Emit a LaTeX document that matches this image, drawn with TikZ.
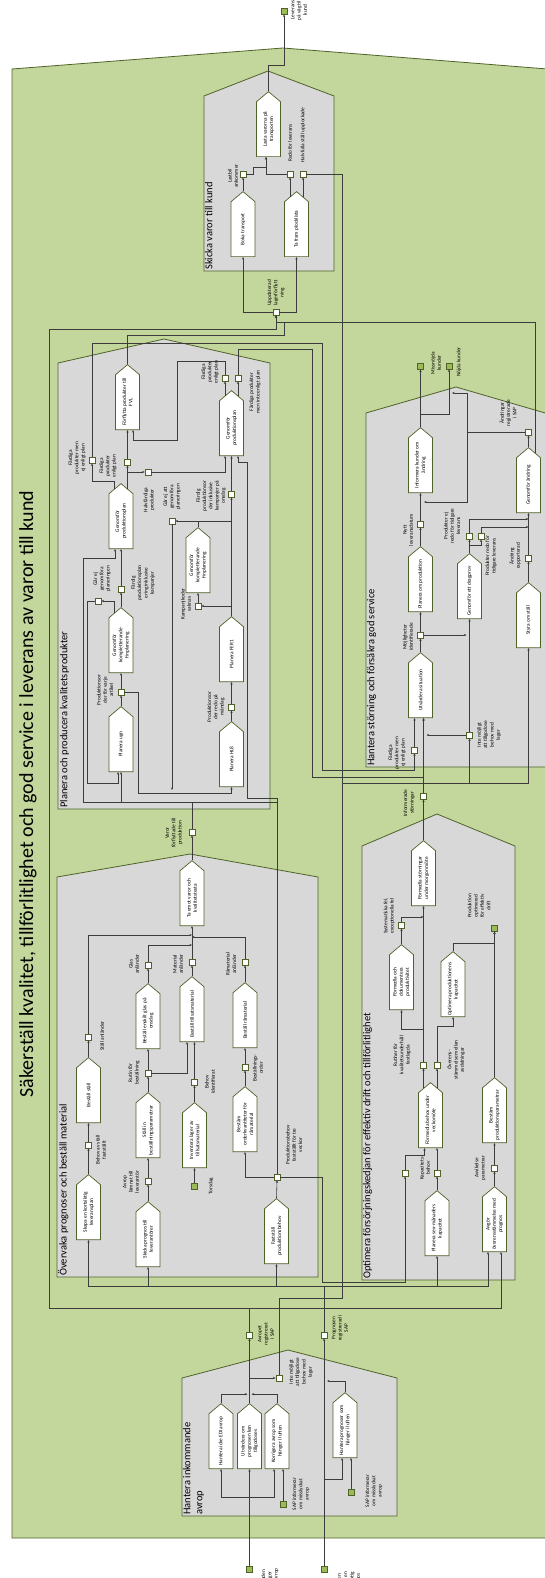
\documentclass[tikz,border=0pt]{standalone}
\usepackage{fontspec}
\setmainfont{Carlito}
\usetikzlibrary{shapes.symbols,arrows.meta}

\definecolor{fieldgreen}{RGB}{195,214,155}
\definecolor{areagray}{RGB}{216,216,216}
\definecolor{edgeolive}{RGB}{79,98,40}
\definecolor{eventgreen}{RGB}{155,187,89}
\definecolor{wire}{RGB}{60,60,60}

\newcommand\smallfs{\fontsize{5.3}{6.3}\selectfont}

\tikzset{
  area/.style={fill=areagray, draw=edgeolive, line width=0.8pt},
  proc/.style={signal, signal to=east, signal pointer angle=100, rotate=90, anchor=west,
    draw=edgeolive, fill=white, line width=0.7pt, minimum width=65pt, minimum height=24pt,
    inner sep=1pt, align=center, font=\smallfs},
  ev/.style={rectangle, draw=edgeolive, fill=white, line width=0.7pt, minimum size=6pt, inner sep=0pt},
  evg/.style={ev, fill=eventgreen},
  lbl/.style={rotate=90, align=center, inner sep=0pt, font=\smallfs},
  areatitle/.style={rotate=90, anchor=north west, align=left, inner sep=0pt,
    font=\fontsize{10.5}{12}\selectfont},
  flow/.style={draw=wire, line width=0.6pt, -{Stealth[length=2.6pt,width=2.2pt]}},
  link/.style={draw=wire, line width=0.6pt},
}

\begin{document}
\begin{tikzpicture}[x=1pt, y=-1pt]
\useasboundingbox (0,0) rectangle (545,1578);

% field and sub-process areas
\draw[fill=fieldgreen, draw=edgeolive, line width=0.8pt] (12,1538) -- (12,69) -- (283,48) -- (560,70) -- (560,1538) -- cycle;
\draw[area] (204,271) -- (204,96) -- (268,71) -- (334,96) -- (334,271) -- cycle;
\draw[area] (58,809) -- (58,363) -- (164,339) -- (270,363) -- (270,809) -- cycle;
\draw[area] (57,1277) -- (57,877) -- (190,854) -- (318,877) -- (318,1277) -- cycle;
\draw[area] (366,767) -- (366,413) -- (456,387) -- (552,415) -- (552,767) -- cycle;
\draw[area] (362,1280) -- (362,846) -- (437,814) -- (515,846) -- (515,1280) -- cycle;
\draw[area] (182,1516) -- (182,1378) -- (288,1350) -- (397,1378) -- (397,1516) -- cycle;

\node[rotate=90, inner sep=0pt, font=\fontsize{20}{24}\selectfont] (maintitle) at (28,794)
  {Säkerställ kvalitet, tillförlitlighet och god service i leverans av varor till kund};
\node[areatitle] (t-skicka) at (205,270) {Skicka varor till kund};
\node[areatitle] (t-planera) at (60,808) {Planera och producera kvalitetsprodukter};
\node[areatitle] (t-overvaka) at (58,1276) {Övervaka prognoser och beställ material};
\node[areatitle] (t-storning) at (367,766) {Hantera störning och försäkra god service};
\node[areatitle] (t-optimera) at (363,1279) {Optimera försörjningskedjan för effektiv drift och tillförlitlighet};
\node[areatitle] (t-avrop) at (183,1515) {Hantera inkommande\\avrop};

% Skicka varor till kund
\node[proc] (lasta) at (268.5,157) {Lasta varorna på\\transporten};
\node[proc] (boka) at (243,257) {Boka transport};
\node[proc] (tafram) at (296.5,257) {Ta fram plocklista};
\node[ev] (lastbil) at (243,174) {};
\node[ev] (redo) at (290,174) {};
\node[ev] (halvf) at (303,174) {};
\node[ev] (upd) at (276,312) {};
\node[evg] (levkund) at (284,11) {};
\node[lbl] (lastbil-l) at (233,176) {Lastbil\\ankommer};
\node[lbl] (redo-l) at (290,143) {Redo för leverans};
\node[lbl] (halvf-l) at (303,135) {Halvfulla ställ upplockade};
\node[lbl] (levkund-l) at (299,10) {Leverans\\på väg till\\kund};
\node[lbl] (upd-l) at (276,293) {Uppdaterad\\lagerförflytt\\ning};

% Planera och producera kvalitetsprodukter
\node[proc] (forfl) at (127.5,430) {Förflytta produkter till\\FVL};
\node[proc] (genpU) at (231.5,456) {Genomför\\produktionsplan};
\node[proc] (genpM) at (121,549) {Genomför\\produktionsplan};
\node[proc] (komplR) at (198,593) {Genomför\\kompletterande\\finplanering};
\node[proc] (komplL) at (121,673) {Genomför\\kompletterande\\finplanering};
\node[proc] (ugn) at (121,772) {Planera ugn};
\node[proc] (fer) at (231.5,682) {Planera FER1};
\node[proc] (hl) at (231.5,787) {Planera HL8};
\node[ev] (fpU1) at (225,378) {};
\node[ev] (fpU2) at (238,378) {};
\node[ev] (fpM1) at (92,460) {};
\node[ev] (fpM2) at (127.5,462) {};
\node[ev] (halvf2) at (148,472) {};
\node[ev] (garejatt) at (172,521) {};
\node[ev] (fpo) at (231.5,494) {};
\node[ev] (kampanj) at (198,606) {};
\node[ev] (garej) at (98,601) {};
\node[ev] (fpl) at (121,589) {};
\node[ev] (poart) at (121,692) {};
\node[ev] (poredo) at (231.5,707) {};
\node[lbl] (fpU1-l) at (210,372) {Färdiga\\produkter\\enligt plan};
\node[lbl] (fpU2-l) at (255,392) {Färdiga produkter\\men inte enligt plan};
\node[lbl] (fpM1-l) at (77,458) {Färdiga\\produkter men\\ej enligt plan};
\node[lbl] (fpM2-l) at (108,466) {Färdiga\\produkter\\enligt plan};
\node[lbl] (halvf2-l) at (149,500) {Halvfärdiga\\produkter};
\node[lbl] (garejatt-l) at (172,497) {Går ej att\\genomföra\\planeringen};
\node[lbl] (fpo-l) at (211,496) {Färdig\\produktionsor\\der inklusive\\kampanjer på\\onsdag};
\node[lbl] (kampanj-l) at (186,604) {Kampanjkoder\\saknas};
\node[lbl] (garej-l) at (102,579) {Går ej\\genomföra\\planeringen};
\node[lbl] (fpl-l) at (143,583) {Färdig\\produktionsplan\\ering inklusive\\kampanjer};
\node[lbl] (poart-l) at (105,690) {Produktionsor\\der för varje\\artikel};
\node[lbl] (poredo-l) at (216,707) {Produktionsor\\der redo på\\måndag};

% Övervaka prognoser och beställ material
\node[proc] (taemot) at (192,926) {Ta emot varor och\\kvalitetstesta};
\node[proc] (bstall) at (88.5,1123) {Beställ ställ};
\node[proc] (skapa) at (88.5,1240) {Skapa en kortsiktig\\leveransplan};
\node[proc] (bglas) at (148,1049) {Beställ enskilt glas på\\onsdag};
\node[proc] (stallin) at (148,1158) {Ställ in\\beställningsparametrar};
\node[proc] (skprog) at (148,1267) {Skicka prognos till\\leverantörer};
\node[proc] (btills) at (192,1042) {Beställ tillsatsmaterial};
\node[proc] (invent) at (194.5,1168) {Inventera lager av\\tillsatsmaterial};
\node[proc] (bram) at (245,1048) {Beställ råmaterial};
\node[proc] (bestam) at (245,1152) {Bestäm\\orderkvantiteter för\\råmaterial};
\node[proc] (faststall) at (276.5,1264) {Fastställ\\produktionsbehov};
\node[ev] (varor) at (192,832) {};
\node[ev] (stallanl) at (88.5,1037) {};
\node[ev] (behovst) at (88.5,1145) {};
\node[ev] (glas) at (148,965) {};
\node[ev] (mat) at (192,962) {};
\node[ev] (ram) at (245,962) {};
\node[ev] (rutin) at (148,1073) {};
\node[ev] (behovid) at (194.5,1082) {};
\node[ev] (avrop) at (148,1181) {};
\node[evg] (torsdag) at (194.5,1186) {};
\node[ev] (bestord) at (245,1067) {};
\node[ev] (prodbehov) at (277,1177) {};
\node[lbl] (varor-l) at (174,833) {Varor\\förflyttade till\\produktion};
\node[lbl] (stallanl-l) at (102,1036) {Ställ anländer};
\node[lbl] (behovst-l) at (101,1150) {Behov av ställ\\fastställt};
\node[lbl] (glas-l) at (134,964) {Glas\\anländer};
\node[lbl] (mat-l) at (178,964) {Material\\anländer};
\node[lbl] (ram-l) at (231,964) {Råmaterial\\anländer};
\node[lbl] (rutin-l) at (134,1073) {Rutin för\\beställning};
\node[lbl] (behovid-l) at (210,1082) {Behov\\identifierat};
\node[lbl] (avrop-l) at (131,1182) {Avrop\\lämnat till\\leverantör};
\node[lbl] (torsdag-l) at (211,1186) {Torsdag};
\node[lbl] (bestord-l) at (258,1068) {Beställnings-\\order};
\node[lbl] (prodbehov-l) at (294,1145) {Produktionsbehov\\fastställt för tre\\veckor};

% Hantera störning och försäkra god service
\node[proc] (inform) at (420.5,493) {Informera kunder om\\ändring};
\node[proc] (genandr) at (528.5,513) {Genomför ändring};
\node[proc] (planom) at (420.5,612) {Planera om produktion};
\node[proc] (dragprov) at (469.5,619) {Genomför ett dragprov};
\node[proc] (styra) at (528.5,648) {Styra om ställ};
\node[proc] (utv) at (420.5,718) {Utvärdera situation};
\node[evg] (missn) at (420.5,366) {};
\node[evg] (nojd) at (449,366) {};
\node[ev] (andrreg) at (528.5,432) {};
\node[ev] (nytt) at (420.5,524) {};
\node[ev] (ejredo) at (469.5,536) {};
\node[ev] (redo2) at (481,536) {};
\node[ev] (andrrap) at (528.5,558) {};
\node[ev] (mojl) at (420.5,635) {};
\node[ev] (fpH) at (414.5,750) {};
\node[ev] (intemH) at (469.5,735) {};
\node[ev] (infst) at (423.5,796) {};
\node[lbl] (missn-l) at (436,363) {Missnöjda\\kunder};
\node[lbl] (nojd-l) at (459,362) {Nöjda kunder};
\node[lbl] (andrreg-l) at (508,413) {Ändringar\\registrerade\\i SAP};
\node[lbl] (nytt-l) at (408,530) {Nytt\\leveransdatum};
\node[lbl] (ejredo-l) at (452,526) {Produkter ej\\redo för tidigare\\leverans};
\node[lbl] (redo2-l) at (491,556) {Produkter redo för\\tidigare leverans};
\node[lbl] (andrrap-l) at (515,556) {Ändring\\rapporterad};
\node[lbl] (mojl-l) at (408,637) {Möjligheter\\identifierade};
\node[lbl] (fpH-l) at (397,753) {Färdiga\\produkter men\\ej enligt plan};
\node[lbl] (intemH-l) at (489,735) {Inte möjligt\\att tillgodose\\behov med\\lager};
\node[lbl] (infst-l) at (409,803) {Informerade\\störningar};

% Optimera försörjningskedjan
\node[proc] (formst) at (423.5,906) {Förmedla störningar\\under morgonmöte};
\node[proc] (formdok) at (401.5,1010) {Förmedla och\\dokumentera\\produktivitet};
\node[proc] (optkap) at (453,1017) {Optimera produktionens\\kapacitet};
\node[proc] (formbeh) at (430.5,1148) {Förmedla behov under\\veckomöte};
\node[proc] (bestpar) at (494.5,1143) {Bestäm\\produktionsparametrar};
\node[proc] (plsex) at (437,1256) {Planera sex-månaders\\kapacitet};
\node[proc] (avgor) at (494.5,1252) {Avgör\\överensstämmelse med\\prognos};
\node[ev] (syst) at (401.5,925) {};
\node[evg] (prodopt) at (494.5,928) {};
\node[ev] (rutiner) at (423.5,1065) {};
\node[ev] (overens) at (437,1065) {};
\node[ev] (kapbeh) at (437,1173) {};
\node[ev] (pbO) at (405,1173) {};
\node[ev] (avvik) at (494.5,1168) {};
\node[lbl] (syst-l) at (389,916) {Systematiska fel,\\exceptionella fel};
\node[lbl] (prodopt-l) at (479,906) {Produktion\\optimerad\\för effektiv\\drift};
\node[lbl] (rutiner-l) at (402,1055) {Rutiner för\\kvalitetsunderhåll\\fastlagda};
\node[lbl] (overens-l) at (456,1060) {Överens-\\stämmelse mellan\\avdelningar};
\node[lbl] (kapbeh-l) at (425,1168) {Kapacitets-\\behov};
\node[lbl] (avvik-l) at (480,1168) {Avvikelse\\parametrar};

% Hantera inkommande avrop
\node[proc] (hicke) at (221,1469) {Hantera icke EDI avrop};
\node[proc] (utvprog) at (249.5,1469) {Utvärdera om\\prognosen kan\\tillgodoses};
\node[proc] (korr) at (277,1469) {Korrigera avrop som\\hänger i luften};
\node[proc] (hprog) at (345,1458) {Hantera prognoser som\\hänger i luften};
\node[ev] (avropreg) at (249.5,1335) {};
\node[ev] (intemI) at (279,1378) {};
\node[ev] (prognreg) at (324,1335) {};
\node[evg] (sap1) at (283,1504) {};
\node[evg] (sap2) at (351,1492) {};
\node[evg] (kundavrop) at (249.5,1569) {};
\node[evg] (kundprog) at (324,1569) {};
\node[lbl] (avropreg-l) at (266,1334) {Avropet\\registrerat\\i SAP};
\node[lbl] (intemI-l) at (301,1372) {Inte möjligt\\att tillgodose\\behov med\\lager};
\node[lbl] (prognreg-l) at (340,1328) {Prognosen\\registrerad i\\SAP};
\node[lbl] (sap1-l) at (301,1494) {SAP informerar\\om misslyckat\\avrop};
\node[lbl] (sap2-l) at (374,1491) {SAP informerar\\om misslyckat\\avrop};
\node[lbl] (kundavrop-l) at (270,1578) {Kunden\\lägger\\ett avrop};
\node[lbl] (kundprog-l) at (349,1582) {Kunden\\lägger en\\långsiktig\\prognos};

% flows: Skicka varor till kund
\draw[flow] (lasta.east) -- ++(0,-26) -| (levkund.south);
\draw[flow] (boka.east) -- (lastbil.south);
\draw[flow] (lastbil.east) -- ++(7,0) -- ++(0,-7) -| ([xshift=-2.5pt]lasta.west);
\draw[flow] (redo.west) -| ([xshift=-2.5pt]lasta.west);
\draw[flow] ([xshift=-6.5pt,yshift=-5.4pt]tafram.east) -- (redo.south);
\draw[flow] ([xshift=6.5pt,yshift=-5.4pt]tafram.east) -- (halvf.south);
\draw[flow] (upd.west) -| (boka.west);
\draw[flow] (upd.east) -| (tafram.west);
\draw[flow] (halvf.east) -- (342,174) -- (342,783) -| (styra.west);

% flows: Planera och producera
\draw[flow] (forfl.east) |- (284,335) -- (284,322) -| (upd.south);
\draw[flow] (avropreg.north) -- (249.5,1308) -| (49,329) -| (upd.south);
\draw[flow] ([xshift=6.5pt,yshift=-5.4pt]genandr.east) -- (535,322) -| (upd.south);
\draw[flow] ([xshift=-6.5pt,yshift=-5.4pt]genpU.east) -- (fpU1.south);
\draw[flow] ([xshift=6.5pt,yshift=-5.4pt]genpU.east) -- (fpU2.south);
\draw[flow] (fpU1.north) |- (177,361) -- (177,440) -| ([xshift=5.5pt]forfl.west);
\draw[flow] (fpU2.north) |- (312,349) -- (312,777) -| (infst.north |- utv.west);
\draw[flow] (fpM1.north) |- (322,343) -- (322,770) -| (fpH.south);
\draw[flow] ([xshift=6.5pt,yshift=-5.4pt]genpM.east) -- (fpM2.south);
\draw[flow] ([xshift=-6.5pt,yshift=-5.4pt]genpM.east) -- ++(0,-7) -| (fpM1.south);
\draw[flow] (fpM2.north) -- (forfl.west);
\draw[flow] ([yshift=-10pt]fpM2.center) -- (halvf2.west);
\draw[flow] (halvf2.east) -| ([xshift=-6.5pt]genpU.west);
\draw[flow] (fpo.north) -- (genpU.west);
\draw[flow] (prodbehov.north) -- (277,798) -| (247,462) -| ([xshift=6.5pt]genpU.west);
\draw[flow] (prodbehov.north) -- (277,802) -| (83,558) -| ([xshift=-6pt]genpM.west);
\draw[link] (varor.north) -- (varor.north |- 0,802);
\draw[flow] ([yshift=-30pt]ugn.west) -- (ugn.west);
\draw[flow] (fer.east) -- (fpo.south);
\draw[flow] (garejatt.east -| fer.east) -- (garejatt.east);
\draw[flow] (kampanj.east -| fer.east) -- (kampanj.east);
\draw[flow] (kampanj.north) -- (komplR.west);
\draw[link] (komplR.east) -- (komplR.east |- garejatt.east);
\draw[flow] (garejatt.south) -- (172,790);
\draw[flow] (poart.east) -| (138,793) -| (hl.west);
\draw[flow] (ugn.east) -- (poart.south);
\draw[flow] (poart.north) -- (komplL.west);
\draw[flow] (hl.east) -- (poredo.south);
\draw[flow] (poredo.north) -- (fer.west);
\draw[flow] (komplL.east) -- (fpl.south);
\draw[flow] (fpl.north) -- (genpM.west);
\draw[flow] ([xshift=-6.5pt,yshift=-5.4pt]komplL.east) |- (garej.east);
\draw[flow] (garej.west) -| (87,783) -| ([xshift=-3pt]ugn.west);

% flows: Övervaka prognoser
\draw[flow] (taemot.east) -- (varor.south);
\draw[flow] (stallanl.north) |- ([yshift=-9pt]taemot.west);
\draw[flow] (glas.north) |- ([yshift=-19pt]taemot.west);
\draw[flow] (mat.north) -- (taemot.west);
\draw[flow] (ram.north) |- ([yshift=-11pt]taemot.west);
\draw[flow] (bstall.east) -- (stallanl.south);
\draw[flow] (behovst.north) -- (bstall.west);
\draw[flow] (skapa.east) -- (behovst.south);
\draw[flow] (bglas.east) -- (glas.south);
\draw[flow] (rutin.north) -- (bglas.west);
\draw[flow] (stallin.east) -- (rutin.south);
\draw[flow] (avrop.north) -- (stallin.west);
\draw[flow] (skprog.east) -- (avrop.south);
\draw[flow] (rutin.east) -| ([xshift=-5pt]btills.west);
\draw[flow] (btills.east) -- (mat.south);
\draw[flow] (behovid.north) -- (behovid.north |- btills.west);
\draw[flow] (invent.east) -- (behovid.south);
\draw[flow] (torsdag.north) -- (invent.west);
\draw[flow] (bram.east) -- (ram.south);
\draw[flow] (bestord.north) -- (bram.west);
\draw[flow] (bestam.east) -- (bestord.south);
\draw[flow] (prodbehov.west) -| (bestam.west);
\draw[flow] (faststall.east) -- (prodbehov.south);
\draw[flow] (prodbehov.east) -| (322,1282) -| (pbO.south);
\draw[flow] (prognreg.north) -- (324,1286) -| (skapa.west);
\draw[flow] ([yshift=-19pt]skprog.west) -- (skprog.west);
\draw[flow] ([yshift=-22pt]faststall.west) -- (faststall.west);
\draw[flow] (prognreg.north |- 0,1286) -| (plsex.west);
\draw[flow] (prognreg.north |- 0,1286) -| ([xshift=-6.5pt]avgor.west);
\draw[flow] (avropreg.north |- 0,1308) -| ([xshift=6.5pt]avgor.west);
\draw[flow] (intemI.north) -- (279,1298) -| (342,783) -| (intemH.south);

% flows: Hantera störning
\draw[flow] (inform.east) -- (missn.south);
\draw[flow] ([yshift=13pt]inform.east) -| (nojd.south);
\draw[flow] (andrreg.west) -| (467,393) -- (452,393);
\draw[flow] (andrreg.west) -| (467,502) -- (424,502);
\draw[flow] (nytt.north) -- (inform.west);
\draw[flow] (planom.east) -- (nytt.south);
\draw[flow] (dragprov.east) -- (ejredo.south);
\draw[flow] ([yshift=8pt]dragprov.east) -| (redo2.south);
\draw[flow] (ejredo.north) |- ([yshift=-6pt]genandr.west);
\draw[flow] (redo2.north) |- ([yshift=-14pt]genandr.west);
\draw[flow] (andrrap.north) -- (genandr.west);
\draw[flow] (styra.east) -- (andrrap.south);
\draw[flow] (genandr.east) -- (andrreg.south);
\draw[flow] (utv.east) -- (mojl.south);
\draw[flow] (mojl.north) -- (planom.west);
\draw[flow] (mojl.east) -- ([xshift=-3pt]mojl.east -| dragprov.west);
\draw[flow] (intemH.north) -- (dragprov.west);
\draw[flow] (intemH.west) -- ([xshift=3pt]intemH.west -| infst.north);
\draw[flow] (fpH.north) -- (fpH.north |- utv.west);
\draw[flow] (infst.north) -- (infst.north |- utv.west);
\draw[flow] (formst.east) -- (infst.south);

% flows: Optimera
\draw[flow] (syst.north) |- ([yshift=-11pt]formst.west);
\draw[flow] (rutiner.north) -- (formst.west);
\draw[flow] (formdok.east) -- (syst.south);
\draw[flow] (rutiner.north |- 0,1029) -| (formdok.west);
\draw[flow] ([xshift=-7pt,yshift=-5.8pt]formbeh.east) -- (rutiner.south);
\draw[flow] ([xshift=6.5pt,yshift=-5.4pt]formbeh.east) -- (overens.south);
\draw[flow] (overens.north) -- ++(0,-35) -| (optkap.west);
\draw[flow] (optkap.east) -- ++(0,-8) -| (prodopt.south);
\draw[flow] (bestpar.east) -- (prodopt.south);
\draw[flow] (avvik.north) -- (bestpar.west);
\draw[flow] (avgor.east) -- (avvik.south);
\draw[flow] (kapbeh.north) -- (kapbeh.north |- formbeh.west);
\draw[flow] (pbO.north) -- ++(0,-14) -| ([xshift=-6pt]formbeh.west);
\draw[flow] (plsex.east) -- (kapbeh.south);

% flows: Hantera inkommande avrop
\draw[flow] (kundavrop.north) -- (utvprog.west);
\draw[flow] ([yshift=-28pt]utvprog.west) -| (hicke.west);
\draw[flow] ([yshift=-28pt]utvprog.west) -| ([xshift=-3pt]korr.west);
\draw[flow] (sap1.north) -- (sap1.north |- korr.west);
\draw[flow] (hicke.east) |- ([xshift=-2pt,yshift=9pt]utvprog.east);
\draw[flow] (korr.east) |- ([xshift=2pt,yshift=9pt]utvprog.east);
\draw[flow] (utvprog.east) -- (avropreg.south);
\draw[flow] (intemI.west -| utvprog.east) -- (intemI.west);
\draw[flow] (kundprog.north) -- (prognreg.south);
\draw[flow] (kundprog.north |- 0,1479) -| ([xshift=-3pt]hprog.west);
\draw[flow] (sap2.north) -- (sap2.north |- hprog.west);
\draw[flow] (hprog.east) |- (327,1381);
\end{tikzpicture}
\end{document}
